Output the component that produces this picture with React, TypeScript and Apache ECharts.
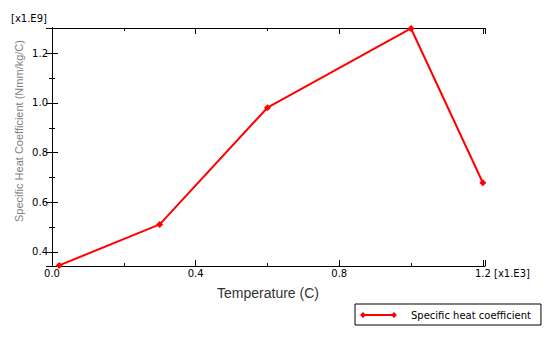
import React, { useEffect, useRef } from "react";
import * as echarts from "echarts";

const temperatures = [0.02, 0.3, 0.6, 1.0, 1.2];
const heatCoefficient = [0.346, 0.511, 0.981, 1.3, 0.679];
const seriesName = "Specific heat coefficient";
const xTitle = "Temperature (C)";
const yTitle = "Specific Heat Coefficient (Nmm/kg/C)";
const xExponent = "[x1.E3]";
const yExponent = "[x1.E9]";

const X_MIN = 0;
const X_MAX = 1.206;
const Y_MIN = 0.3436;
const Y_MAX = 1.302;

const TICK_FONT = "DejaVu Sans";

function labelFmt(step: number) {
  return (v: number) => {
    const r = v / step;
    if (Math.abs(r - Math.round(r)) > 1e-6) return "";
    return v.toFixed(1);
  };
}

export default function App() {
  const ref = useRef<HTMLDivElement>(null);
  useEffect(() => {
    if (!ref.current) return;
    const chart = echarts.init(ref.current, null, { renderer: "svg" });
    const axisLine = { show: true, lineStyle: { color: "#000", width: 1 } };
    const xCommon = {
      type: "value" as const,
      min: X_MIN,
      max: X_MAX,
      interval: 0.4,
      axisLine,
      axisTick: { show: true, inside: true, length: 6, lineStyle: { color: "#000" } },
      minorTick: { show: true, splitNumber: 2, length: 3, lineStyle: { color: "#000" } },
      splitLine: { show: false },
    };
    const yCommon = {
      type: "value" as const,
      min: Y_MIN,
      max: Y_MAX,
      splitNumber: 5,
      axisLine,
      axisTick: { show: true, inside: true, length: 6, lineStyle: { color: "#000" } },
      minorTick: { show: true, splitNumber: 2, length: 3, lineStyle: { color: "#000" } },
      splitLine: { show: false },
    };
    const legendIcon =
      "path://M0,3 L3,0 L6,3 L3,6 Z M31,3 L34,0 L37,3 L34,6 Z M3,2.1 L34,2.1 L34,3.9 L3,3.9 Z";
    chart.setOption({
      animation: false,
      backgroundColor: "#fff",
      grid: { left: 52, right: 61, top: 28, bottom: 71, containLabel: false },
      xAxis: [
        {
          ...xCommon,
          position: "bottom",
          axisLabel: {
            show: true,
            margin: 2,
            color: "#000",
            fontFamily: TICK_FONT,
            fontSize: 10,
            formatter: labelFmt(0.4),
          },
        },
        { ...xCommon, position: "top", axisLabel: { show: false } },
      ],
      yAxis: [
        {
          ...yCommon,
          position: "left",
          axisLabel: {
            show: true,
            margin: 4,
            color: "#000",
            fontFamily: TICK_FONT,
            fontSize: 10,
            formatter: labelFmt(0.2),
          },
        },
        { ...yCommon, position: "right", axisLabel: { show: false } },
      ],
      legend: {
        left: 355,
        top: 304,
        orient: "horizontal",
        borderColor: "#000",
        borderWidth: 1,
        borderRadius: 0,
        padding: [6, 10, 5, 5],
        itemWidth: 37,
        itemHeight: 6,
        data: [{ name: seriesName, icon: legendIcon, itemStyle: { color: "#ff0000" } }],
        textStyle: {
          color: "#000",
          fontFamily: TICK_FONT,
          fontSize: 10,
          padding: [0, 0, 0, 9],
        },
      },
      graphic: [
        {
          type: "text",
          left: 11,
          top: 13,
          style: { text: yExponent, font: `10px "${TICK_FONT}"`, fill: "#000" },
        },
        {
          type: "text",
          left: 494,
          top: 268,
          style: { text: xExponent, font: `10px "${TICK_FONT}"`, fill: "#000" },
        },
        {
          type: "text",
          x: 268,
          y: 293,
          style: {
            text: xTitle,
            font: '14px "Liberation Sans"',
            fill: "#333",
            align: "center",
            verticalAlign: "middle",
          },
        },
        {
          type: "text",
          x: 19,
          y: 131,
          rotation: Math.PI / 2,
          style: {
            text: yTitle,
            font: '11px "Liberation Sans"',
            fill: "#808080",
            align: "center",
            verticalAlign: "middle",
          },
        },
      ],
      series: [
        {
          name: seriesName,
          type: "line",
          xAxisIndex: 0,
          yAxisIndex: 0,
          data: temperatures.map((t, i) => [t, heatCoefficient[i]]),
          symbol: "diamond",
          symbolSize: 7,
          showAllSymbol: true,
          clip: false,
          lineStyle: { color: "#ff0000", width: 2 },
          itemStyle: { color: "#ff0000" },
        },
      ],
    });
    return () => chart.dispose();
  }, []);
  return (
    <div
      ref={ref}
      style={{ position: "fixed", left: 0, top: 0, width: 546, height: 337 }}
    />
  );
}
